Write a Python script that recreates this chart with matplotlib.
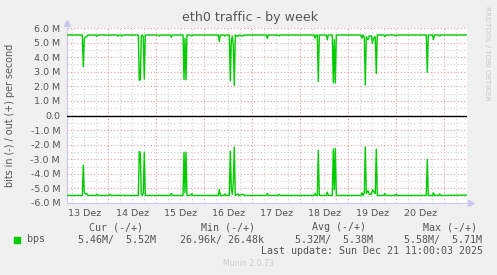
import numpy as np
import matplotlib
matplotlib.use("Agg")
import matplotlib.pyplot as plt
from matplotlib.patches import Rectangle
from matplotlib.ticker import FuncFormatter

# hours since 13 Dez 00:00, traffic in Mbit/s (in is drawn below zero)
hours = [
    3.4, 11.0, 11.5, 12.0, 12.5, 13.1, 13.8,
    17.7, 18.2, 18.7,
    24.3, 24.85, 25.4,
    28.4, 28.85, 29.4, 30.4, 30.85, 31.4,
    39.0, 39.5, 40.0, 40.5, 41.0, 41.5, 42.0, 42.5,
    49.0, 49.5, 50.0,
    55.0, 55.5, 56.0,
    61.35, 61.85, 62.35, 62.85, 63.35,
    65.2, 65.7, 66.2,
    79.0, 79.5, 80.0,
    81.8, 82.3, 82.8,
    84.5, 85.0, 85.5, 86.0, 86.5, 87.0, 87.5,
    88.85, 89.3, 91.35, 91.8,
    103.0, 103.5, 104.0,
    108.85, 109.35, 109.85,
    126.85, 127.35, 127.85, 128.5, 129.0, 129.5,
    133.0, 133.5, 134.0,
    136.0, 136.5, 137.0, 137.5, 138.0,
    150.35, 150.85, 151.35, 152.0, 152.5, 153.0, 153.85, 154.5,
    155.6, 156.1, 156.6, 157.5, 158.0, 158.5,
    161.85, 162.35, 162.85,
    167.35, 167.85, 168.35,
    183.0, 183.5, 184.0,
    186.1, 186.6, 187.1,
    189.2, 189.7, 190.2,
    203.0,
]
out_mbps = [
    5.52, 5.52, 3.35, 5.28, 5.36, 5.40, 5.52,
    5.52, 5.42, 5.52,
    5.52, 5.50, 5.52,
    5.52, 5.44, 5.52, 5.52, 5.44, 5.52,
    5.52, 2.42, 2.45, 5.45, 5.52, 5.40, 2.49, 5.52,
    5.52, 5.45, 5.52,
    5.52, 5.36, 5.52,
    5.52, 2.47, 5.30, 2.45, 5.52,
    5.52, 5.46, 5.52,
    5.52, 5.08, 5.52,
    5.52, 5.45, 5.52,
    5.52, 2.38, 5.10, 5.45, 4.80, 2.07, 5.52,
    5.42, 5.52, 5.45, 5.52,
    5.52, 5.28, 5.52,
    5.52, 5.46, 5.52,
    5.52, 5.30, 5.52, 5.52, 2.33, 5.52,
    5.52, 5.19, 5.52,
    5.52, 2.25, 5.20, 2.22, 5.52,
    5.52, 5.30, 5.52, 5.35, 2.10, 5.40, 5.20, 5.45,
    5.45, 4.96, 5.30, 5.40, 2.88, 5.52,
    5.52, 5.40, 5.52,
    5.52, 5.45, 5.52,
    5.52, 2.95, 5.52,
    5.52, 5.20, 5.52,
    5.52, 5.45, 5.52,
    5.52,
]
in_mbps = [
    5.48, 5.48, 3.41, 5.30, 5.38, 5.35, 5.48,
    5.48, 5.40, 5.48,
    5.48, 5.40, 5.48,
    5.48, 5.46, 5.48, 5.48, 5.46, 5.48,
    5.48, 2.47, 2.60, 5.40, 5.48, 5.35, 2.50, 5.48,
    5.48, 5.46, 5.48,
    5.48, 5.35, 5.48,
    5.48, 2.52, 5.30, 2.52, 5.48,
    5.48, 5.36, 5.48,
    5.48, 5.08, 5.48,
    5.48, 5.38, 5.48,
    5.48, 2.45, 5.00, 5.40, 4.60, 2.17, 5.48,
    5.38, 5.48, 5.40, 5.48,
    5.48, 5.35, 5.48,
    5.48, 5.40, 5.48,
    5.48, 5.35, 5.48, 5.48, 2.38, 5.48,
    5.48, 5.25, 5.48,
    5.48, 2.31, 5.10, 2.25, 5.48,
    5.48, 5.30, 5.48, 5.30, 2.15, 5.35, 5.15, 5.40,
    5.40, 5.08, 5.20, 5.35, 2.31, 5.48,
    5.48, 5.35, 5.48,
    5.48, 5.40, 5.48,
    5.48, 3.00, 5.48,
    5.48, 5.30, 5.48,
    5.48, 5.38, 5.48,
    5.46,
]
day_labels = ["13 Dez", "14 Dez", "15 Dez", "16 Dez", "17 Dez", "18 Dez", "19 Dez", "20 Dez"]
legend_cols = ["Cur (-/+)", "Min (-/+)", "Avg (-/+)", "Max (-/+)"]
legend_vals = ["5.46M/  5.52M", "26.96k/ 26.48k", "5.32M/  5.38M", "5.58M/  5.71M"]

W, H = 497, 275
GREEN = "#00cc00"
TXT = "#555555"


def px(x, y):
    return x / W, 1 - y / H


fig = plt.figure(figsize=(W / 100, H / 100), dpi=100, facecolor="#f0f0f0")
ax = fig.add_axes([67 / W, 1 - 203 / H, 400 / W, 175 / H])
ax.set_facecolor("white")

t = np.array(hours)
ax.plot(t, np.array(out_mbps) * 1e6, color=GREEN, lw=1.0, zorder=3)
ax.plot(t, -np.array(in_mbps) * 1e6, color=GREEN, lw=1.0, zorder=3)
ax.axhline(0, color="black", lw=1.0, zorder=4)

ax.set_xlim(3.35, 203.35)
ax.set_ylim(-6e6, 6e6)

# grid: red at midnight / each 1M, grey every 6h / 0.5M
for h in range(6, 204, 6):
    major = h % 24 == 0
    ax.axvline(h, color="#e89a9a" if major else "#cfcfcf", lw=0.8,
               dashes=(1, 2), zorder=1)
for v in np.arange(-6, 6.01, 0.5):
    major = abs(v - round(v)) < 1e-6
    ax.axhline(v * 1e6, color="#e89a9a" if major else "#cfcfcf", lw=0.8,
               dashes=(1, 2), zorder=1)

ax.set_yticks(np.arange(-6, 7, 1) * 1e6)
ax.yaxis.set_major_formatter(FuncFormatter(
    lambda v, p: "0.0" if abs(v) < 1 else f"{v / 1e6:.1f} M"))
ax.set_xticks([12 + 24 * i for i in range(len(day_labels))])
ax.set_xticklabels(day_labels)
ax.tick_params(axis="y", length=0, pad=5, labelsize=6.8, labelcolor=TXT)
ax.tick_params(axis="x", length=0, pad=4, labelsize=6.8, labelcolor=TXT)

for s in ["top", "right"]:
    ax.spines[s].set_visible(False)
for s in ["left", "bottom"]:
    ax.spines[s].set_color("#c8c8ee")
    ax.spines[s].set_linewidth(0.8)
ax.plot([0], [1.03], marker="^", ms=4, color="#c8c8ee", transform=ax.transAxes, clip_on=False)
ax.plot([1.01], [0], marker=">", ms=4, color="#c8c8ee", transform=ax.transAxes, clip_on=False)

fig.text(*px(250, 17), "eth0 traffic - by week", ha="center", va="center",
         fontsize=9.1, color=TXT)
fig.text(*px(10, 115), "bits in (-) / out (+) per second", rotation=90,
         ha="center", va="center", fontsize=6.9, color=TXT)
fig.text(*px(487, 53), "RRDTOOL / TOBI OETIKER", rotation=270, ha="center",
         va="center", fontsize=5.3, color="#c8c8c8")
fig.text(*px(248, 264), "Munin 2.0.73", ha="center", va="center",
         fontsize=5.6, color="#cccccc")

# legend
fig.patches.append(Rectangle(px(14, 243), 6 / W, 6 / H, color=GREEN,
                             transform=fig.transFigure, figure=fig))
mono = dict(family="DejaVu Sans Mono", fontsize=7.2, color=TXT, va="center")
fig.text(*px(27, 239.5), "bps", **mono)
for name, val, xh, xv in zip(legend_cols, legend_vals,
                             [89, 201, 312, 423], [78, 180, 295, 404]):
    fig.text(*px(xh, 227.5), name, **mono)
    fig.text(*px(xv, 239.5), val, **mono)
fig.text(*px(483, 251), "Last update: Sun Dec 21 11:00:03 2025", ha="right", **mono)

fig.savefig("out.png", dpi=100, facecolor=fig.get_facecolor())
